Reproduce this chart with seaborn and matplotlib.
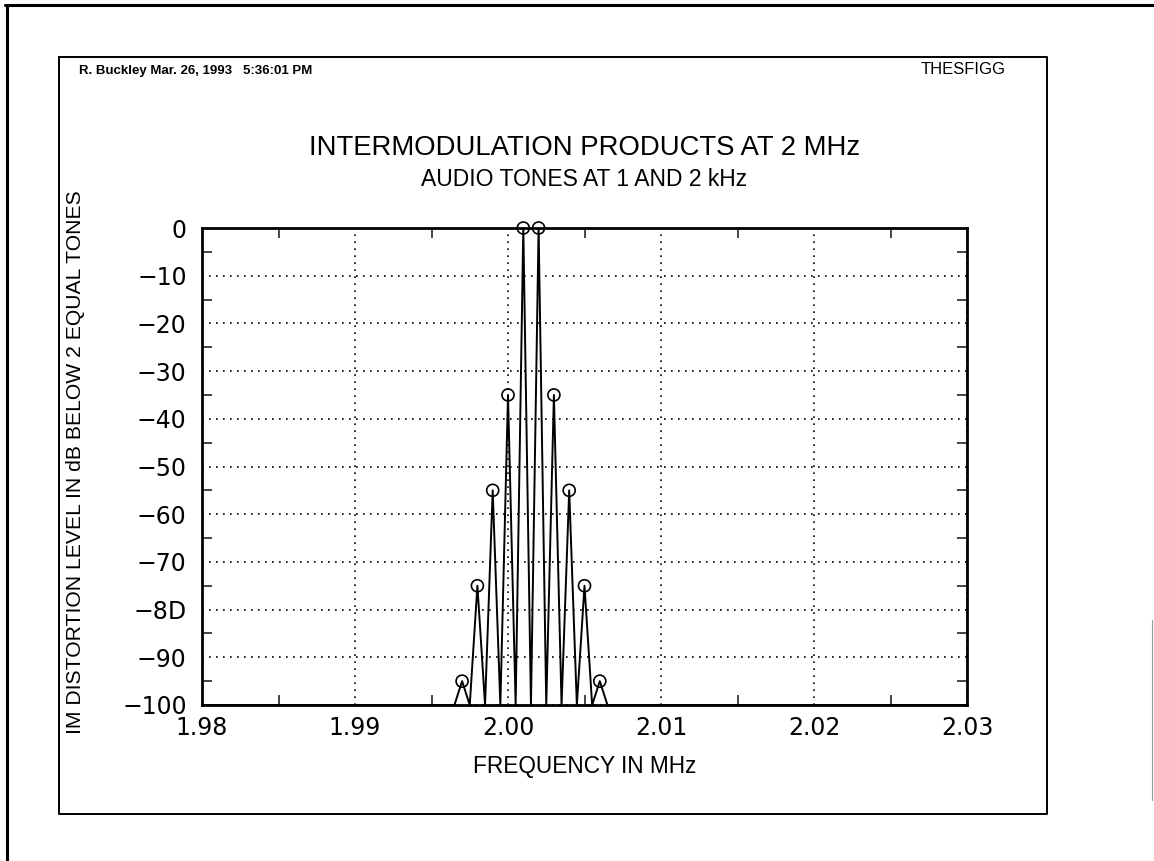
import matplotlib
matplotlib.use("Agg")
import matplotlib.pyplot as plt
from matplotlib.lines import Line2D
from matplotlib.ticker import FixedLocator, MultipleLocator
import seaborn as sns
import pandas as pd

# ---- data ----
freq_mhz = [1.980, 1.9965, 1.997, 1.9975, 1.998, 1.9985, 1.999, 1.9995,
            2.000, 2.0005, 2.001, 2.0015, 2.002, 2.0025, 2.003, 2.0035,
            2.004, 2.0045, 2.005, 2.0055, 2.006, 2.0065, 2.030]
level_db = [-100, -100, -95, -100, -75, -100, -55, -100,
            -35, -100, 0, -100, 0, -100, -35, -100,
            -55, -100, -75, -100, -95, -100, -100]
peak_freq = [1.997, 1.998, 1.999, 2.000, 2.001, 2.002, 2.003, 2.004, 2.005, 2.006]
peak_db = [-95, -75, -55, -35, 0, 0, -35, -55, -75, -95]
x_ticks = [1.98, 1.99, 2.00, 2.01, 2.02, 2.03]
x_tick_labels = ["1.98", "1.99", "2.00", "2.01", "2.02", "2.03"]
y_ticks = [0, -10, -20, -30, -40, -50, -60, -70, -80, -90, -100]
y_tick_labels = ["0", "\u221210", "\u221220", "\u221230", "\u221240", "\u221250",
                 "\u221260", "\u221270", "\u22128D", "\u221290", "\u2212100"]

title = "INTERMODULATION PRODUCTS AT 2 MHz"
subtitle = "AUDIO TONES AT 1 AND 2 kHz"
xlabel = "FREQUENCY IN MHz"
ylabel = "IM DISTORTION LEVEL IN dB BELOW 2 EQUAL TONES"
header_left = "R. Buckley Mar. 26, 1993   5:36:01 PM"
header_right = "THESFIGG"

line_df = pd.DataFrame({"freq": freq_mhz, "level": level_db})
peak_df = pd.DataFrame({"freq": peak_freq, "level": peak_db})

sns.set_style("white")
narrow = ["Liberation Sans", "DejaVu Sans"]
plt.rcParams["font.family"] = ["DejaVu Sans"]
plt.rcParams["text.color"] = "black"

W, H = 1154, 861
fig = plt.figure(figsize=(W / 100, H / 100), dpi=100)

def fx(px):
    return px / W

def fy(py):
    return 1 - py / H

# outer frame lines
fig.add_artist(Line2D([fx(5), fx(1154)], [fy(5), fy(5)], color="black", lw=2.2))
fig.add_artist(Line2D([fx(7), fx(7)], [fy(5), fy(861)], color="black", lw=2.2))
fig.add_artist(Line2D([fx(1152), fx(1152)], [fy(620), fy(800)], color="0.6", lw=0.8))
# inner box
bx0, bx1, by0, by1 = 59, 1047, 57, 814
fig.add_artist(Line2D([fx(bx0), fx(bx1), fx(bx1), fx(bx0), fx(bx0)],
                      [fy(by0), fy(by0), fy(by1), fy(by1), fy(by0)],
                      color="black", lw=1.4))

ax_l, ax_r, ax_t, ax_b = 202, 967, 228, 705
ax = fig.add_axes([fx(ax_l), fy(ax_b), fx(ax_r - ax_l), (ax_b - ax_t) / H])

sns.lineplot(data=line_df, x="freq", y="level", sort=False, ax=ax,
             color="black", lw=1.4, estimator=None)
sns.scatterplot(data=peak_df, x="freq", y="level", ax=ax, s=75,
                facecolor="none", edgecolor="black", linewidth=1.2, marker="o",
                zorder=5, clip_on=False)

ax.set_xlim(1.98, 2.03)
ax.set_ylim(-100, 0)
ax.xaxis.set_major_locator(FixedLocator(x_ticks))
ax.set_xticklabels(x_tick_labels)
ax.yaxis.set_major_locator(FixedLocator(y_ticks))
ax.set_yticklabels(y_tick_labels)
ax.xaxis.set_minor_locator(MultipleLocator(0.005))
ax.yaxis.set_minor_locator(MultipleLocator(5))
ax.tick_params(which="major", length=0, pad=11, labelsize=17, colors="black")
ax.tick_params(which="minor", direction="in", length=7, width=1.2,
               top=True, right=True, bottom=True, left=True)
ax.tick_params(axis="x", which="major", pad=8)
for lab in ax.get_xticklabels() + ax.get_yticklabels():
    lab.set_family(["DejaVu Sans"])

ax.grid(True, which="major", color="black", linestyle=(0, (1, 3.2)), lw=1.2)
for s in ax.spines.values():
    s.set_visible(True)
    s.set_color("black")
    s.set_linewidth(2.0)
ax.set_xlabel("")
ax.set_ylabel("")

cx = fx((ax_l + ax_r) / 2)
fig.text(cx, fy(148), title, ha="center", va="center", fontsize=19.8,
         family=narrow, color="black")
fig.text(cx, fy(180), subtitle, ha="center", va="center", fontsize=16.5,
         family=narrow, color="black")
fig.text(cx, fy(766), xlabel, ha="center", va="center", fontsize=16.3,
         family=narrow, color="black")
fig.text(fx(76), fy(462), ylabel, ha="center", va="center", rotation=90,
         fontsize=15.2, family=narrow, color="black")
fig.text(fx(79), fy(71), header_left, ha="left", va="center", fontsize=9.5,
         family=narrow, fontweight="bold", color="black")
fig.text(fx(1006), fy(70), header_right, ha="right", va="center", fontsize=12,
         family=narrow, color="black")

fig.savefig("out.png", dpi=100)
